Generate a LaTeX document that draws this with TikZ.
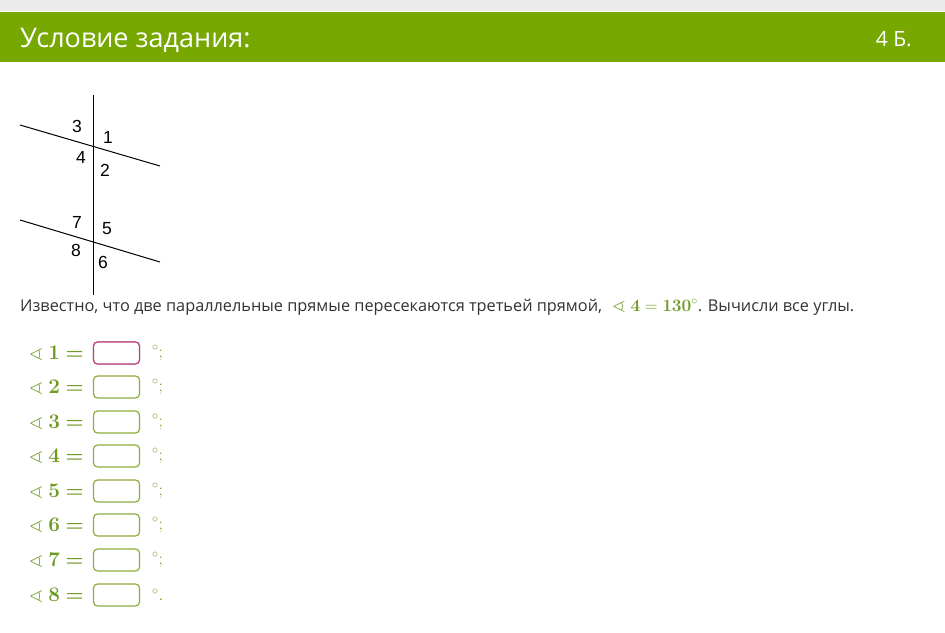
\documentclass[tikz,border=0pt]{standalone}
\usepackage{amsmath}
\usepackage{amssymb}
\usepackage[no-math]{fontspec}
\setmainfont{Open Sans}
\newfontfamily\arialfont{Liberation Sans}
\definecolor{barGreen}{HTML}{76A800}
\definecolor{mathGreen}{HTML}{6E9B22}
\definecolor{boxGreen}{HTML}{8DAE3C}
\definecolor{boxPink}{HTML}{C2388A}
\definecolor{topGray}{HTML}{EAEAEA}
\definecolor{txtGray}{HTML}{333333}
\begin{document}
\begin{tikzpicture}[x=1pt,y=-1pt,
  lbl/.style={font=\arialfont\fontsize{17.5}{17.5}\selectfont, inner sep=0pt},
  geoline/.style={line width=1pt, black},
  ansbox/.style={draw=boxGreen, line width=1.2pt, rounded corners=4pt, minimum width=46pt, minimum height=22pt, inner sep=0pt, fill=white},
  angtxt/.style={text=mathGreen, font=\fontsize{19.5}{19.5}\selectfont, anchor=west, inner sep=0pt},
  degtxt/.style={text=mathGreen, font=\fontsize{18}{18}\selectfont, anchor=west, inner sep=0pt}]
\useasboundingbox (0,0) rectangle (945,632);
\fill[white] (0,0) rectangle (945,632);
\fill[topGray] (0,0) rectangle (945,11);
\fill[barGreen] (0,12) rectangle (945,62);
\node[anchor=base west, text=white, font=\fontsize{27}{27}\selectfont, inner sep=0pt] (title) at (20,47) {Условие задания:};
\node[anchor=base east, text=white, font=\fontsize{21}{21}\selectfont, inner sep=0pt] (pts) at (912,46) {4 Б.};
% geometry
\coordinate (vt) at (93,95);
\coordinate (vb) at (93,295);
\coordinate (a1) at (20,125);
\coordinate (a2) at (160,166);
\coordinate (b1) at (20,220);
\coordinate (b2) at (160,262);
\draw[geoline] (vt) -- (vb);
\draw[geoline] (a1) -- (a2);
\draw[geoline] (b1) -- (b2);
\node[lbl] (l3) at (77,126) {3};
\node[lbl] (l1) at (108,137) {1};
\node[lbl] (l4) at (81,157) {4};
\node[lbl] (l2) at (105,170) {2};
\node[lbl] (l7) at (77,222) {7};
\node[lbl] (l5) at (107,229) {5};
\node[lbl] (l8) at (76,250) {8};
\node[lbl] (l6) at (103,262) {6};
% statement
\node[anchor=base west, inner sep=0pt, text=txtGray, font=\fontsize{16.3}{16.3}\selectfont] (stmt) at (20,311)
  {Известно, что две параллельные прямые пересекаются третьей прямой, \hspace{6pt}{\color{mathGreen}\fontsize{18.5}{18.5}\selectfont$\sphericalangle\ \mathbf{4=130}^{\circ}$}. Вычисли все углы.};
% answer rows
\foreach \n/\y/\endc [count=\i] in {1/353/;,2/387/;,3/422/;,4/456/;,5/491/;,6/525/;,7/560/;,8/595/.}{
  \node[angtxt] (ang\i) at (29,\y) {$\sphericalangle\ \mathbf{\n}\boldsymbol{=}$};
  \node[ansbox] (box\i) at (116.5,\y) {};
  \node[degtxt] (deg\i) at (152,\y) {$^{\circ}\mathbf{\endc}$};
}
\node[ansbox, draw=boxPink] (box1b) at (116.5,353) {};
\end{tikzpicture}
\end{document}
